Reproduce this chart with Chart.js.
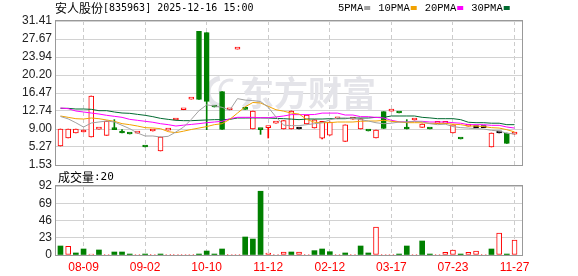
<!DOCTYPE html>
<html>
<head>
<meta charset="utf-8">
<script src="https://cdn.jsdelivr.net/npm/chart.js@4.4.1/dist/chart.umd.min.js"></script>
<style>
  html, body { margin: 0; padding: 0; background: #fff; }
  #wrap { position: relative; width: 578px; height: 276px; overflow: hidden; }
  canvas { position: absolute; left: 0; }
  #kline { top: 0; }
  #vol { top: 170px; }
</style>
</head>
<body>
<div id="wrap">
  <canvas id="kline" width="578" height="170"></canvas>
  <canvas id="vol" width="578" height="106"></canvas>
</div>
<script>
// daily bars, oldest first
const stockName = '安人股份';
const stockCode = '[835963] 2025-12-16 15:00';

const dates = [
  '', '', '', '08-09', '', '', '', '',
  '', '', '', '09-02', '', '', '', '',
  '', '', '', '10-10', '', '', '', '',
  '', '', '', '11-12', '', '', '', '',
  '', '', '', '02-12', '', '', '', '',
  '', '', '', '03-17', '', '', '', '',
  '', '', '', '07-23', '', '', '', '',
  '', '', '', '11-27'
];

const open = [
  5.47, 7.13, 8.17, 8.38, 7.34, 8.99, 7.69, 8.87, 8.18, 7.97,
  8.16, 5.28, 8.58, 4.44, 8.78, 10.86, 13.00, 15.21, 29.26, 28.99,
  13.57, 16.75, 12.99, 25.59, 13.09, 9.00, 8.87, 9.27, 10.23, 9.00,
  9.00, 9.00, 10.04, 9.20, 7.10, 7.70, 11.13, 6.44, 11.06, 9.00,
  8.60, 7.15, 12.60, 12.72, 12.33, 9.01, 10.86, 9.35, 9.01, 10.16,
  10.16, 8.17, 6.94, 9.61, 9.28, 9.28, 5.27, 8.20, 8.17, 7.95
];
const close = [
  9.00, 9.00, 9.00, 8.79, 15.85, 9.00, 10.66, 8.86, 8.17, 7.96,
  8.17, 5.27, 8.59, 7.34, 8.79, 10.87, 13.01, 15.22, 15.15, 14.74,
  13.56, 8.93, 13.00, 25.60, 13.08, 12.73, 8.86, 9.28, 10.24, 10.73,
  12.74, 9.00, 11.90, 10.90, 10.60, 10.45, 11.14, 9.85, 11.07, 11.10,
  8.59, 8.80, 9.10, 12.73, 12.32, 9.00, 10.87, 10.04, 9.00, 10.17,
  10.17, 9.85, 6.93, 9.62, 9.28, 9.28, 8.17, 8.20, 6.02, 7.96
];
const high = [
  9.00, 9.00, 9.00, 8.79, 15.85, 9.00, 10.66, 10.94, 8.86, 7.97,
  8.17, 5.28, 8.59, 7.34, 8.79, 10.87, 13.01, 15.22, 29.26, 28.99,
  13.57, 16.75, 13.00, 25.60, 13.09, 12.73, 8.87, 9.28, 10.24, 10.73,
  12.74, 9.00, 11.90, 10.90, 10.60, 10.45, 11.14, 9.85, 11.07, 11.10,
  8.60, 8.80, 12.60, 12.73, 12.33, 10.94, 10.87, 10.04, 9.01, 10.17,
  10.17, 9.85, 6.94, 9.62, 9.28, 9.28, 8.17, 8.20, 8.17, 7.96
];
const low = [
  5.47, 7.13, 8.17, 8.38, 7.34, 8.99, 7.69, 8.86, 8.17, 7.96,
  8.16, 5.27, 8.58, 4.44, 8.78, 10.86, 13.00, 15.21, 15.15, 8.86,
  13.56, 8.93, 12.99, 25.59, 13.08, 9.00, 7.89, 7.13, 10.23, 9.00,
  9.00, 9.00, 10.04, 9.20, 6.93, 7.70, 11.13, 6.44, 11.06, 9.00,
  8.59, 7.15, 9.10, 12.72, 12.32, 9.00, 10.86, 9.35, 9.00, 10.16,
  10.16, 8.17, 6.93, 9.61, 9.28, 9.28, 5.27, 8.20, 6.02, 7.95
];

const ma5 = [
  11.6, 11.1, 10.3, 9.4, 10.24, 10.45, 10.66, 10.45, 9.76, 9.07,
  8.17, 7.55, 7.55, 7.34, 7.48, 8.38, 9.4, 11.0, 12.8, 14.0,
  13.8, 13.5, 12.9, 15.3, 15.0, 14.9, 14.7, 13.5, 11.5, 9.8,
  9.7, 9.7, 9.9, 10.1, 10.3, 10.9, 11.28, 11.3, 11.2, 10.94,
  10.66, 10.3, 10.1, 10.2, 10.45, 10.45, 10.6, 10.5, 10.1, 9.9,
  10.0, 9.5, 9.28, 9.2, 9.07, 9.0, 8.72, 8.6, 8.1, 8.0
];
const ma10 = [
  11.70, 11.42, 11.14, 11.07, 11.28, 11.14, 10.87, 10.59, 10.11, 9.9,
  9.62, 9.28, 9.21, 9.07, 8.45, 8.24, 8.55, 8.9, 9.2, 9.5,
  9.9, 10.1, 11.0, 12.3, 13.6, 14.5, 14.4, 13.7, 13.0, 12.7,
  12.3, 12.1, 11.0, 10.4, 10.31, 10.31, 10.45, 10.45, 10.45, 10.6,
  10.66, 10.66, 10.8, 10.59, 10.45, 10.31, 10.31, 10.3, 10.17, 10.17,
  10.17, 10.0, 9.9, 9.62, 9.62, 9.5, 9.28, 9.2, 8.86, 8.4
];
const ma20 = [
  13.36, 13.22, 12.73, 12.53, 12.32, 12.11, 11.84, 11.63, 11.42, 11.0,
  10.8, 10.6, 10.4, 10.1, 9.9, 9.62, 9.8, 9.95, 10.11, 10.31,
  10.45, 10.59, 11.14, 11.42, 11.42, 11.42, 11.35, 11.35, 11.5, 11.7,
  11.98, 11.98, 11.98, 12.0, 12.3, 12.3, 12.3, 11.9, 11.9, 11.56,
  11.56, 11.4, 11.3, 10.8, 10.5, 10.45, 10.59, 10.59, 10.45, 10.45,
  10.45, 10.31, 10.2, 9.9, 9.9, 9.9, 9.76, 9.76, 9.41, 9.2
];
const ma30 = [
  13.29, 13.29, 13.15, 13.15, 13.08, 12.8, 12.8, 12.53, 12.32, 12.25,
  12.04, 11.84, 11.56, 11.21, 11.0, 10.8, 10.73, 10.73, 10.8, 10.87,
  10.94, 10.94, 11.0, 11.28, 11.28, 11.3, 11.3, 11.28, 11.2, 11.14,
  11.05, 10.94, 11.07, 11.07, 11.07, 11.14, 11.14, 11.14, 11.28, 11.28,
  11.28, 11.42, 11.42, 11.7, 11.7, 11.7, 11.7, 11.42, 11.3, 11.14,
  11.14, 11.14, 10.94, 10.4, 10.31, 10.31, 10.2, 10.2, 9.9, 9.9
];

const volume = [
  12, 11.6, 2.7, 8, 1.3, 6.7, 1, 4, 4, 1.3,
  1, 1.3, 1, 1.3, 1, 1, 1, 1, 1.3, 5.3,
  1.3, 8, 1, 1, 24, 21.3, 85, 2.7, 1, 4,
  4, 4, 1, 5.8, 8, 4.4, 1, 2.7, 1, 12,
  2.7, 37.3, 1, 1, 1.3, 12, 1, 18.7, 1.3, 1,
  3.6, 6.7, 1.3, 3.6, 5.3, 1, 8, 29.3, 1.3, 20
];
// 1 = closed up on the day, 0 = closed down
const volRise = [
  0, 1, 0, 0, 1, 0, 1, 0, 0, 0,
  1, 0, 1, 0, 1, 1, 1, 1, 0, 0,
  0, 0, 1, 1, 0, 0, 0, 1, 1, 1,
  0, 1, 1, 0, 0, 0, 1, 0, 1, 0,
  0, 1, 1, 1, 0, 0, 1, 0, 0, 1,
  1, 1, 0, 1, 1, 1, 0, 1, 0, 1
];

const priceTicks = [1.53, 5.27, 9.00, 12.74, 16.47, 20.20, 23.94, 27.67, 31.41];
const volumeTicks = [0, 23, 46, 69, 92];
const maNames = ['5PMA', '10PMA', '20PMA', '30PMA'];

const RED = '#ff0000';
const GREEN = '#008000';
const maColors = ['#a0a0a0', '#f2a200', '#ff00ff', '#006a30'];
const sansFont = '"Liberation Sans", "Noto Sans CJK SC", sans-serif';
const cjkFont = '"Noto Sans CJK SC", sans-serif';

const idx = open.map((_, i) => i);

function candleColor(i) {
    if (close[i] > open[i]) return RED;
    if (close[i] < open[i]) return GREEN;
    return '#000000';
}

// only the dated slots get a tick / dashed line
function dateTicks(scale) {
    scale.ticks = idx.filter(i => dates[i] !== '').map(i => ({ value: i }));
}

function xScale(showLabels, height) {
    return {
        type: 'linear',
        offset: false,
        min: -0.58,
        max: 59.97,
        afterBuildTicks: dateTicks,
        afterFit: s => {
            s.height = height;
            s.paddingLeft = 0;
            s.paddingRight = 0;
        },
        ticks: {
            display: showLabels,
            autoSkip: false,
            maxRotation: 0,
            padding: 5,
            color: RED,
            font: { size: 12, family: sansFont },
            callback: v => dates[v]
        },
        grid: { color: '#cccccc', drawTicks: false, offset: false },
        border: { display: false, dash: [4, 3] }
    };
}

function yScale(min, max, ticks, fmt) {
    return {
        min: min,
        max: max,
        afterBuildTicks: s => { s.ticks = ticks.map(v => ({ value: v })); },
        afterFit: s => {
            s.width = 56;
            s.paddingTop = 0;
            s.paddingBottom = 0;
        },
        ticks: {
            autoSkip: false,
            padding: 4,
            color: '#222',
            font: { size: 12, family: sansFont },
            callback: fmt
        },
        grid: { color: '#d2d2d2', drawTicks: false },
        border: { display: false }
    };
}

const framePlugin = {
    id: 'frame',
    afterDraw(chart) {
        const a = chart.chartArea;
        const ctx = chart.ctx;
        ctx.save();
        ctx.strokeStyle = '#999';
        ctx.lineWidth = 1;
        ctx.setLineDash([]);
        ctx.strokeRect(Math.round(a.left) - 0.5, Math.round(a.top) - 0.5,
            Math.round(a.right - a.left) + 1, Math.round(a.bottom - a.top) + 1);
        ctx.restore();
    }
};

const watermarkPlugin = {
    id: 'watermark',
    beforeDatasetsDraw(chart) {
        const ctx = chart.ctx;
        ctx.save();
        ctx.fillStyle = '#e4e4e9';
        ctx.strokeStyle = '#e4e4e9';
        ctx.font = 'bold 34px ' + cjkFont;
        ctx.textBaseline = 'middle';
        ctx.fillText('东方财富', 240, 93);
        ctx.lineWidth = 5;
        ctx.beginPath();
        ctx.arc(222, 92, 14, Math.PI * 0.55, Math.PI * 1.45);
        ctx.stroke();
        ctx.lineWidth = 3;
        ctx.beginPath();
        ctx.arc(230, 90, 10, Math.PI * 0.7, Math.PI * 1.6);
        ctx.stroke();
        ctx.restore();
    }
};

const headerPlugin = {
    id: 'header',
    afterDraw(chart) {
        const ctx = chart.ctx;
        ctx.save();
        ctx.textBaseline = 'middle';
        ctx.fillStyle = '#000';
        ctx.font = '12px ' + cjkFont;
        ctx.fillText(stockName, 55, 8);
        ctx.font = '10px "DejaVu Sans Mono", monospace';
        ctx.fillText(stockCode, 103, 8);

        // MA legend
        let x = 338;
        ctx.font = '10.5px "Liberation Mono", monospace';
        maNames.forEach((name, k) => {
            ctx.fillStyle = '#000';
            ctx.fillText(name, x, 8);
            x += ctx.measureText(name).width + 1;
            ctx.fillStyle = maColors[k];
            ctx.fillRect(x, 6, 6, 4);
            x += 6 + 8;
        });
        ctx.restore();
    }
};

const volTitlePlugin = {
    id: 'volTitle',
    afterDraw(chart) {
        const ctx = chart.ctx;
        ctx.save();
        ctx.textBaseline = 'middle';
        ctx.fillStyle = '#000';
        ctx.font = '12px ' + cjkFont;
        ctx.fillText('成交量', 58, 7);
        const w = ctx.measureText('成交量').width;
        ctx.font = '11px "DejaVu Sans Mono", monospace';
        ctx.fillText(':' + volume[volume.length - 1], 58 + w, 7);
        ctx.restore();
    }
};

const maLine = (values, k) => ({
    type: 'line',
    label: maNames[k],
    data: idx.map(i => ({ x: i, y: values[i] })),
    borderColor: maColors[k],
    borderWidth: 1,
    pointRadius: 0,
    tension: 0,
    fill: false,
    order: 0
});

new Chart(document.getElementById('kline'), {
    type: 'bar',
    data: {
        datasets: [
            {
                label: 'wick',
                data: idx.map(i => ({ x: i, y: [low[i], high[i]] })),
                backgroundColor: idx.map(candleColor),
                barThickness: 1,
                grouped: false,
                order: 3
            },
            {
                label: 'body',
                data: idx.map(i => ({ x: i, y: [open[i], close[i]] })),
                backgroundColor: idx.map(i => close[i] > open[i] ? '#ffffff' : candleColor(i)),
                borderColor: idx.map(candleColor),
                borderWidth: 1,
                borderSkipped: false,
                barThickness: 5,
                minBarLength: 2,
                grouped: false,
                order: 2
            },
            maLine(ma5, 0),
            maLine(ma10, 1),
            maLine(ma20, 2),
            maLine(ma30, 3)
        ]
    },
    options: {
        responsive: false,
        animation: false,
        devicePixelRatio: 1,
        layout: { padding: { top: 21, right: 56, bottom: 5, left: 0 } },
        plugins: { legend: { display: false }, tooltip: { enabled: false } },
        scales: {
            x: xScale(false, 0),
            y: yScale(1.53, 31.41, priceTicks, v => v.toFixed(2))
        }
    },
    plugins: [watermarkPlugin, framePlugin, headerPlugin]
});

new Chart(document.getElementById('vol'), {
    type: 'bar',
    data: {
        datasets: [
            {
                label: 'up',
                data: idx.map(i => ({ x: i, y: volRise[i] ? volume[i] : null })),
                backgroundColor: '#ffffff',
                borderColor: RED,
                borderWidth: 1,
                borderSkipped: false,
                barThickness: 5,
                grouped: false
            },
            {
                label: 'down',
                data: idx.map(i => ({ x: i, y: volRise[i] ? null : volume[i] })),
                backgroundColor: GREEN,
                borderWidth: 0,
                barThickness: 5,
                grouped: false
            }
        ]
    },
    options: {
        responsive: false,
        animation: false,
        devicePixelRatio: 1,
        layout: { padding: { top: 16, right: 56, bottom: 0, left: 0 } },
        plugins: { legend: { display: false }, tooltip: { enabled: false } },
        scales: {
            x: xScale(true, 21),
            y: yScale(0, 92, volumeTicks, v => String(v))
        }
    },
    plugins: [framePlugin, volTitlePlugin]
});
</script>
</body>
</html>
